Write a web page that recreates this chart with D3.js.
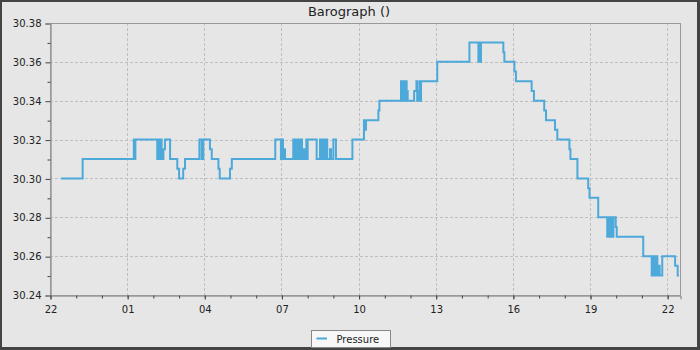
<!DOCTYPE html>
<html>
<head>
<meta charset="utf-8">
<script src="https://cdn.jsdelivr.net/npm/d3@7"></script>
<style>
  body { margin: 0; background: #444; }
  text { font-family: "DejaVu Sans", sans-serif; fill: #222; }
</style>
</head>
<body>
<div class="chart"></div>
<script>
// Chart text
const chartTitle = "Barograph ()";
const seriesName = "Pressure";

// Axis ticks
const yTicks = [30.24, 30.26, 30.28, 30.30, 30.32, 30.34, 30.36, 30.38];
const yMinorTicks = [30.25, 30.27, 30.29, 30.31, 30.33, 30.35, 30.37];
const hourLabels = ["22", "01", "04", "07", "10", "13", "16", "19", "22"];

// Pressure readings: [hours after 22:00, inHg], each value held until the next
const pressureSteps = [
  [0.43, 30.30], [1.27, 30.31], [3.26, 30.32], [3.29, 30.31], [3.32, 30.32],
  [4.17, 30.31], [4.20, 30.32], [4.23, 30.31], [4.25, 30.32], [4.28, 30.31],
  [4.31, 30.32], [4.34, 30.31], [4.41, 30.315], [4.47, 30.32], [4.67, 30.31],
  [4.95, 30.305], [5.02, 30.30], [5.18, 30.305], [5.25, 30.31], [5.81, 30.32],
  [5.90, 30.31], [5.96, 30.32], [6.22, 30.315], [6.29, 30.31], [6.55, 30.305],
  [6.60, 30.30], [7.00, 30.305], [7.07, 30.31], [8.76, 30.32], [8.98, 30.31],
  [9.02, 30.32], [9.06, 30.31], [9.10, 30.315], [9.14, 30.31], [9.46, 30.32],
  [9.49, 30.31], [9.52, 30.32], [9.56, 30.31], [9.59, 30.32], [9.62, 30.31],
  [9.65, 30.32], [9.68, 30.31], [9.71, 30.32], [9.74, 30.31], [9.77, 30.32],
  [9.80, 30.31], [9.84, 30.315], [9.87, 30.31], [9.94, 30.315], [9.97, 30.32],
  [9.99, 30.31], [10.02, 30.32], [10.37, 30.31], [10.50, 30.32], [10.53, 30.31],
  [10.56, 30.32], [10.59, 30.31], [10.62, 30.32], [10.66, 30.31], [10.69, 30.32],
  [10.72, 30.31], [10.75, 30.32], [10.78, 30.31], [10.89, 30.315], [10.93, 30.31],
  [11.02, 30.32], [11.12, 30.31], [11.76, 30.32], [12.21, 30.33], [12.25, 30.325],
  [12.29, 30.33], [12.77, 30.335], [12.81, 30.34], [13.65, 30.35], [13.68, 30.34],
  [13.71, 30.35], [13.74, 30.34], [13.77, 30.35], [13.81, 30.34], [13.84, 30.35],
  [13.87, 30.345], [13.91, 30.34], [14.16, 30.345], [14.25, 30.35], [14.28, 30.34],
  [14.33, 30.345], [14.37, 30.35], [14.40, 30.34], [14.43, 30.35], [15.06, 30.36],
  [16.31, 30.37], [16.66, 30.36], [16.69, 30.37], [16.72, 30.36], [16.76, 30.37],
  [17.63, 30.365], [17.67, 30.36], [18.06, 30.355], [18.12, 30.35], [18.73, 30.345],
  [18.82, 30.34], [19.22, 30.335], [19.29, 30.33], [19.64, 30.325], [19.73, 30.32],
  [20.20, 30.315], [20.24, 30.31], [20.51, 30.30], [20.93, 30.295], [20.98, 30.29],
  [21.32, 30.28], [21.67, 30.27], [21.72, 30.28], [21.77, 30.27], [21.82, 30.28],
  [21.84, 30.27], [21.91, 30.28], [22.00, 30.275], [22.04, 30.27], [23.07, 30.26],
  [23.40, 30.25], [23.43, 30.26], [23.46, 30.25], [23.48, 30.26], [23.51, 30.25],
  [23.54, 30.26], [23.56, 30.25], [23.59, 30.26], [23.62, 30.25], [23.68, 30.255],
  [23.71, 30.25], [23.81, 30.26], [24.31, 30.255], [24.41, 30.25], [24.46, 30.25]
];

// Sizes
const w = 700;
const h = 350;
const margin = { top: 23, right: 20, bottom: 55, left: 50 };
const lineColor = "#4ca9da";

const svg = d3
  .select(".chart")
  .append("svg")
  .attr("width", w)
  .attr("height", h);

// Background with dark frame
svg.append("rect").attr("width", w).attr("height", h).attr("fill", "#444");
svg
  .append("rect")
  .attr("x", 2)
  .attr("y", 2)
  .attr("width", w - 5)
  .attr("height", h - 5)
  .attr("fill", "#e6e6e6");

// Time scale
const start = new Date(2024, 0, 1, 22, 0);
const end = new Date(2024, 0, 2, 22, 30);
const toDate = (hrs) => new Date(start.getTime() + hrs * 3600 * 1000);

const xScale = d3
  .scaleTime()
  .domain([start, end])
  .range([margin.left, w - margin.right]);

const yScale = d3
  .scaleLinear()
  .domain([yTicks[0], yTicks[yTicks.length - 1]])
  .range([h - margin.bottom, margin.top]);

const majorHours = d3.timeHour.range(start, end, 3);
const minorHours = d3.timeHour.range(start, end);

// GRID //
const grid = svg.append("g").attr("stroke", "#bfbfbf").attr("stroke-dasharray", "3,2");
grid
  .selectAll(".vgrid")
  .data(majorHours.slice(1))
  .enter()
  .append("line")
  .attr("x1", (d) => Math.round(xScale(d)) + 0.5)
  .attr("x2", (d) => Math.round(xScale(d)) + 0.5)
  .attr("y1", margin.top)
  .attr("y2", h - margin.bottom);
grid
  .selectAll(".hgrid")
  .data(yTicks.slice(1, -1))
  .enter()
  .append("line")
  .attr("x1", margin.left)
  .attr("x2", w - margin.right)
  .attr("y1", (d) => Math.round(yScale(d)) + 0.5)
  .attr("y2", (d) => Math.round(yScale(d)) + 0.5);

// Plot border
svg
  .append("rect")
  .attr("x", margin.left + 0.5)
  .attr("y", margin.top + 0.5)
  .attr("width", w - margin.left - margin.right)
  .attr("height", h - margin.top - margin.bottom)
  .attr("fill", "none")
  .attr("stroke", "#999");

// AXES //
const yAxis = svg
  .append("g")
  .attr("transform", `translate(${margin.left + 0.5}, 0.5)`)
  .call(d3.axisLeft(yScale).tickValues(yTicks).tickSize(5).tickPadding(4).tickFormat(d3.format(".2f")));
svg
  .append("g")
  .attr("transform", `translate(${margin.left + 0.5}, 0.5)`)
  .call(d3.axisLeft(yScale).tickValues(yMinorTicks).tickSize(3).tickFormat(""));

const xAxis = svg
  .append("g")
  .attr("transform", `translate(0.5, ${h - margin.bottom + 0.5})`)
  .call(
    d3
      .axisBottom(xScale)
      .tickValues(majorHours)
      .tickSize(4)
      .tickPadding(6)
      .tickFormat((d, i) => hourLabels[i])
  );
svg
  .append("g")
  .attr("transform", `translate(0.5, ${h - margin.bottom + 0.5})`)
  .call(d3.axisBottom(xScale).tickValues(minorHours).tickSize(3).tickFormat(""));

svg.selectAll(".domain").attr("stroke", "#999");
svg.selectAll(".tick line").attr("stroke", "#444");
svg.selectAll(".tick text").attr("font-size", 10).attr("font-family", "DejaVu Sans").attr("fill", "#222");

// LINE //
const line = d3
  .line()
  .x((d) => xScale(toDate(d[0])))
  .y((d) => yScale(d[1]))
  .curve(d3.curveStepAfter);

svg
  .append("path")
  .datum(pressureSteps)
  .attr("fill", "none")
  .attr("stroke", lineColor)
  .attr("stroke-width", 2)
  .attr("d", line);

// TITLE //
svg
  .append("text")
  .text(chartTitle)
  .attr("x", 349)
  .attr("y", 15.5)
  .attr("text-anchor", "middle")
  .attr("font-size", 13);

// LEGEND //
const legend = svg.append("g").attr("transform", "translate(311.5, 330.5)");
legend
  .append("rect")
  .attr("width", 79)
  .attr("height", 17)
  .attr("fill", "#f7f7f7")
  .attr("stroke", "#888");
legend
  .append("line")
  .attr("x1", 5)
  .attr("x2", 15.5)
  .attr("y1", 8)
  .attr("y2", 8)
  .attr("stroke", lineColor)
  .attr("stroke-width", 2);
legend
  .append("text")
  .text(seriesName)
  .attr("x", 25)
  .attr("y", 12)
  .attr("font-size", 10);
</script>
</body>
</html>
